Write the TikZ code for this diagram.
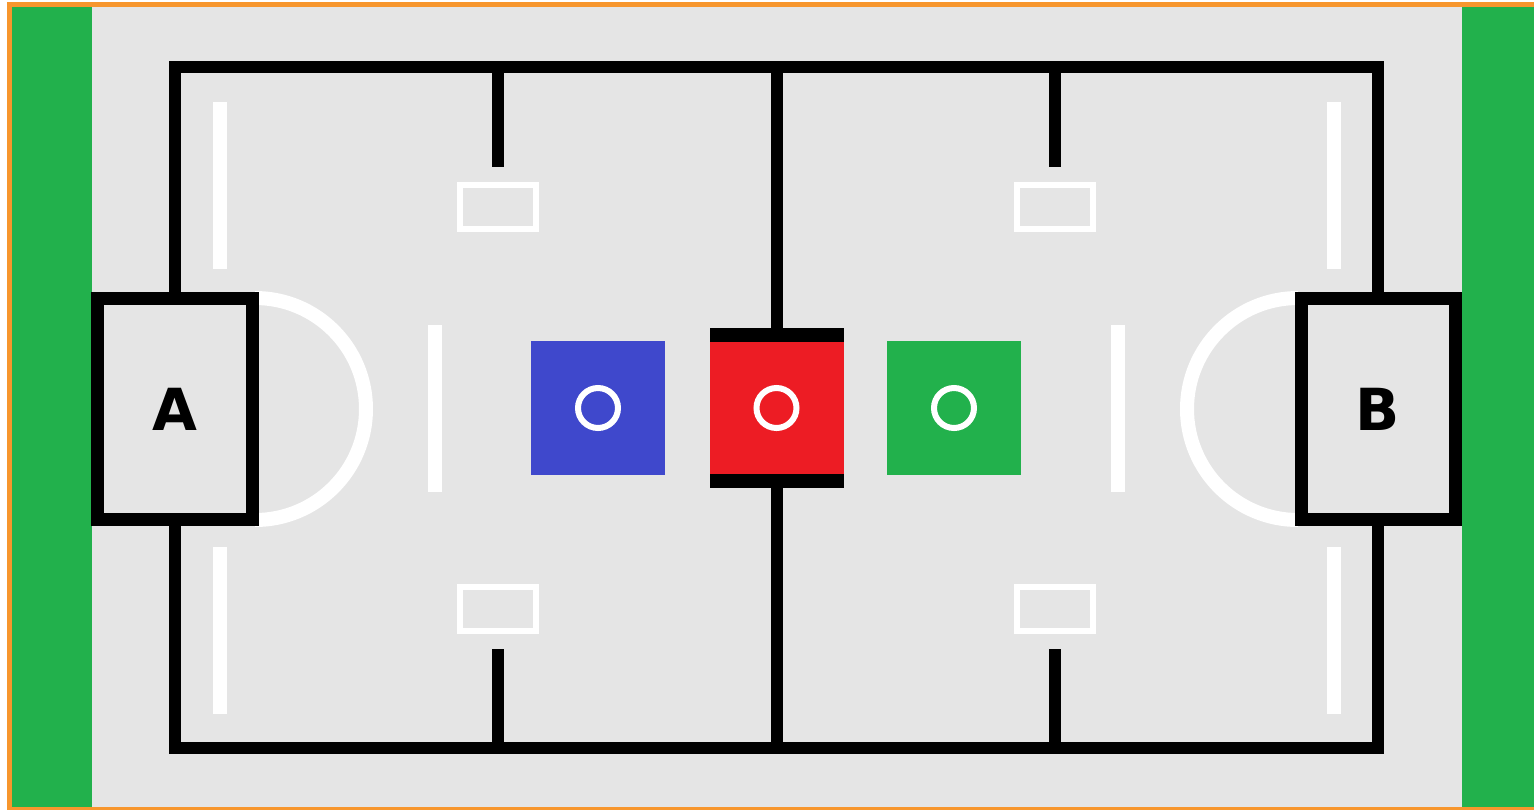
\documentclass[tikz,border=0pt]{standalone}
\usepackage{xcolor}
\usepackage{fontspec}
\setsansfont{DejaVu Sans}
\usepackage{tikz}

\definecolor{fieldgray}{RGB}{229,229,229}
\definecolor{fieldgreen}{RGB}{34,177,76}
\definecolor{borderorange}{RGB}{247,150,45}
\definecolor{zoneblue}{RGB}{63,72,204}
\definecolor{zonered}{RGB}{237,28,36}

\begin{document}
\begin{tikzpicture}[x=0.2mm, y=-0.2mm,
    wall/.style={line width=2.4mm, line join=miter},
    tape/.style={white, line width=2.8mm},
    goalbox/.style={draw, line width=2.6mm, fill=fieldgray, minimum width=30.8mm,
        minimum height=44.2mm, inner sep=0pt,
        font=\sffamily\bfseries\fontsize{33}{33}\selectfont},
    zone/.style={minimum width=26.8mm, minimum height=26.8mm, inner sep=0pt, outer sep=0pt}]
    \useasboundingbox (0,0) rectangle (1534,810);

    % Draw the field and the side strips
    \fill[white] (0,0) rectangle (1534,810);
    \fill[borderorange] (7,2) rectangle (1534,810);
    \fill[fieldgray] (12,7) rectangle (1534,807);
    \fill[fieldgreen] (12,7) rectangle (92,807);
    \fill[fieldgreen] (1462,7) rectangle (1534,807);

    % Draw the white tape
    \draw[tape] (220,102) -- (220,269);
    \draw[tape] (220,547) -- (220,714);
    \draw[tape] (1334,102) -- (1334,269);
    \draw[tape] (1334,547) -- (1334,714);
    \draw[tape] (435,325) -- (435,492);
    \draw[tape] (1118,325) -- (1118,492);
    \draw[tape] (255,298) arc[start angle=-90, end angle=90, radius=111];
    \draw[tape] (1298,298) arc[start angle=-90, end angle=-270, radius=111];

    % Add the goals
    \node[goalbox] (goalA) at (175,409) {A};
    \node[goalbox] (goalB) at (1378,409) {B};

    % Add the centre zones
    \node[zone, fill=zonered, minimum height=32mm] (redzone) at (776.5,408) {};
    \node[zone, fill=zoneblue] (bluezone) at (598,408) {};
    \node[zone, fill=fieldgreen] (greenzone) at (954,408) {};
    \fill (redzone.north west) rectangle ([yshift=-2.8mm]redzone.north east);
    \fill (redzone.south west) rectangle ([yshift=2.8mm]redzone.south east);
    \foreach \z in {redzone, bluezone, greenzone}
        \draw[white, line width=1.2mm] (\z.center) circle[radius=20];

    % Draw the walls
    \coordinate (midtop) at (776.5,67);
    \coordinate (midbottom) at (776.5,748);
    \draw[wall] (goalA.north) -- (175,67) -- (1378,67) -- (goalB.north);
    \draw[wall] (goalA.south) -- (175,748) -- (1378,748) -- (goalB.south);
    \draw[wall] (midtop) -- (redzone.north);
    \draw[wall] (redzone.south) -- (midbottom);

    % Draw the short walls and the white boxes
    \foreach \x in {498,1055} {
        \draw[wall] (\x,67) -- (\x,167);
        \draw[wall] (\x,649) -- (\x,748);
        \draw[white, line width=1.2mm] (\x-38,185) rectangle (\x+38,229);
        \draw[white, line width=1.2mm] (\x-38,587) rectangle (\x+38,631);
    }
\end{tikzpicture}
\end{document}
